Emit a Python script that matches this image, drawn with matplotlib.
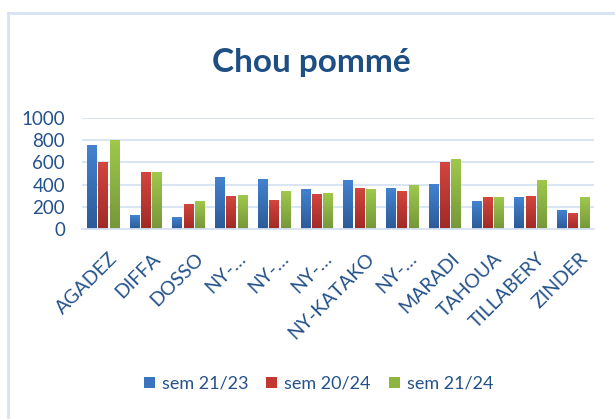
import matplotlib
matplotlib.use("Agg")
import matplotlib.pyplot as plt
import numpy as np
from matplotlib.lines import Line2D
from matplotlib.patches import Patch
from matplotlib.colors import LinearSegmentedColormap
import matplotlib.transforms as mtransforms

categories = ["AGADEZ", "DIFFA", "DOSSO", "NY-…", "NY-…", "NY-…", "NY-KATAKO",
              "NY-…", "MARADI", "TAHOUA", "TILLABERY", "ZINDER"]
series_names = ["sem 21/23", "sem 20/24", "sem 21/24"]
sem_21_23 = [748, 119, 106, 468, 447, 353, 435, 365, 398, 249, 283, 167]
sem_20_24 = [599, 505, 222, 295, 261, 307, 365, 340, 599, 283, 295, 140]
sem_21_24 = [796, 505, 249, 304, 340, 316, 353, 389, 623, 283, 435, 283]
yticks = [0, 200, 400, 600, 800, 1000]

colors = ["#3A74BE", "#C2372F", "#8DB53F"]
grads = [("#2C5A98", "#4283D0"), ("#A02A26", "#D2463E"), ("#76973A", "#9FC84C")]
text_color = "#24528A"
grid_color = "#D7E3F3"

plt.rcParams['font.family'] = ['Lato', 'DejaVu Sans']

fig = plt.figure(figsize=(6.15, 4.19), dpi=100)
ax = fig.add_axes([0.1327, 0.4535, 0.8338, 0.2649])

x = np.arange(len(categories))
step = 0.265
width = 0.22
grad_img = np.linspace(0, 1, 64).reshape(-1, 1)
for i, (vals, (c0, c1)) in enumerate(zip([sem_21_23, sem_20_24, sem_21_24], grads)):
    cmap = LinearSegmentedColormap.from_list("g%d" % i, [c0, c1])
    bars = ax.bar(x + (i - 1) * step, vals, width=width, color=colors[i], zorder=3)
    for b in bars:
        x0, y0 = b.get_x(), b.get_y()
        w, h = b.get_width(), b.get_height()
        ax.imshow(grad_img, extent=[x0, x0 + w, y0, y0 + h], origin='lower',
                  aspect='auto', cmap=cmap, zorder=4, interpolation='bilinear')

ax.set_xlim(-0.5, len(categories) - 0.5)
ax.set_ylim(0, 1000)
ax.set_yticks(yticks)
ax.set_yticklabels([str(t) for t in yticks], fontsize=13.5, color=text_color)
ax.yaxis.grid(True, color=grid_color, linewidth=1.3, zorder=0)
ax.tick_params(axis='y', length=0, pad=12)
ax.tick_params(axis='x', length=0, pad=4)
ax.set_xticks(x)
ax.set_xticklabels(categories, rotation=45, ha='right', rotation_mode='anchor',
                   fontsize=14, color=text_color)
offset = mtransforms.ScaledTranslation(6 / 100, -15 / 100, fig.dpi_scale_trans)
for lbl in ax.get_xticklabels():
    lbl.set_transform(lbl.get_transform() + offset)
for s in ["top", "right", "left"]:
    ax.spines[s].set_visible(False)
ax.spines["bottom"].set_color(grid_color)
ax.spines["bottom"].set_linewidth(1.3)
ax.spines["bottom"].set_zorder(5)

fig.text(0.506, 0.850, "Chou pommé", ha='center', va='center', fontsize=24,
         fontweight='bold', color="#1F4E82")

handles = [Patch(facecolor=c, edgecolor='none') for c in colors]
fig.legend(handles, series_names, loc='center', bbox_to_anchor=(0.518, 0.084),
           ncol=3, frameon=False, fontsize=13, labelcolor=text_color,
           handlelength=0.6, handleheight=0.6, handletextpad=0.4, columnspacing=1.0)

# chart border (light blue)
fig.add_artist(Line2D([8/615, 8/615], [0, 1 - 13/419], transform=fig.transFigure,
                      color=grid_color, linewidth=2))
fig.add_artist(Line2D([8/615, 614/615], [1 - 13/419, 1 - 13/419], transform=fig.transFigure,
                      color=grid_color, linewidth=2))

fig.savefig("out.png", dpi=100)
